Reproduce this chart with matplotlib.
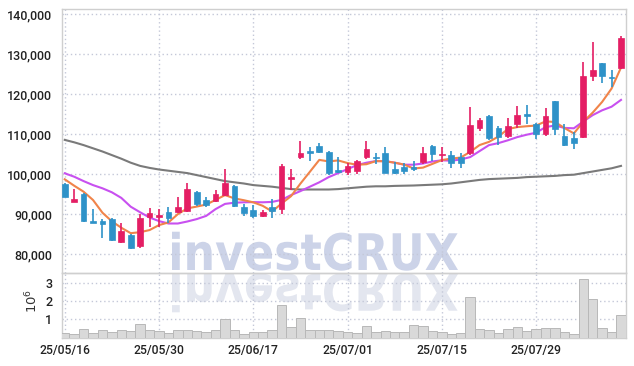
import numpy as np
import matplotlib
matplotlib.use("Agg")
import matplotlib.pyplot as plt
import matplotlib.transforms as mtransforms
from matplotlib.textpath import TextPath
from matplotlib.patches import PathPatch
from matplotlib.font_manager import FontProperties, fontManager

# ---- data ----
dates = ['25/05/16', '25/05/30', '25/06/17', '25/07/01', '25/07/15', '25/07/29']
date_idx = [0, 10, 20, 30, 40, 50]

opens = [97600, 93150, 95100, 88300, 88300, 88800, 83150, 84800, 82150, 89400,
         89250, 90500, 90500, 90800, 95600, 93500, 93300, 94800, 97100, 91900,
         91150, 89550, 91800, 91300, 98850, 104400, 105750, 107100, 105650, 101150,
         100650, 100900, 104400, 104400, 105400, 101300, 101800, 101750, 103150, 107100,
         104750, 104825, 104250, 105250, 111500, 114575, 111650, 109650, 112500, 114900,
         112500, 110000, 118300, 109575, 109000, 109400, 124650, 127750, 124400, 126650]
highs = [97800, 96250, 95200, 91300, 88800, 89000, 87800, 85000, 90000, 91600,
         91200, 91900, 94300, 97900, 95800, 94200, 96100, 101300, 97200, 92500,
         92300, 91100, 93800, 102600, 101250, 108300, 106750, 107750, 105900, 104250,
         102750, 103550, 108400, 105400, 106900, 103150, 102900, 103300, 106900, 107200,
         106900, 105900, 105250, 116750, 114000, 114700, 112100, 114000, 117100, 117300,
         112700, 116500, 118400, 112500, 110650, 128000, 133000, 127800, 126100, 134600]
lows = [94200, 93050, 88000, 87700, 84100, 83400, 82800, 81200, 81500, 86700,
        86900, 87800, 90300, 90500, 92100, 91900, 93100, 94600, 91900, 89550,
        89000, 89400, 89000, 90100, 96100, 103750, 103250, 105200, 99750, 100400,
        99800, 100100, 103900, 102500, 100300, 100100, 100100, 100900, 102600, 103300,
        103150, 101500, 101650, 104800, 110800, 108600, 107300, 109000, 111500, 112500,
        108750, 109600, 109800, 107150, 106300, 109150, 123300, 122750, 121900, 126250]
closes = [94400, 93800, 88300, 87900, 87600, 83600, 85800, 81500, 89150, 90250,
          89800, 89150, 91900, 96300, 92500, 92300, 95000, 97900, 92150, 90250,
          89650, 90650, 90800, 102150, 99400, 105400, 105400, 105650, 100250, 100650,
          102100, 103300, 106300, 104150, 100400, 100400, 100900, 101400, 105250, 105075,
          105150, 102750, 102750, 112300, 113600, 109150, 109400, 112075, 114800, 114650,
          110000, 114650, 111250, 107325, 107900, 124575, 126075, 124650, 124000, 134150]
ma5 = [98750, 97150, 95650, 93575, 90400, 88240, 86640, 85280, 85530, 86060,
       87300, 87970, 90050, 91480, 91930, 92430, 93600, 94800, 93970, 93520,
       92990, 92120, 90700, 92700, 94530, 97680, 100630, 103600, 103220, 103470,
       102810, 102390, 102520, 103300, 103250, 102910, 102430, 101450, 101670, 102605,
       103555, 103925, 104195, 105605, 107310, 108110, 109440, 111305, 111805, 112015,
       112185, 113235, 113070, 111575, 110225, 113140, 115425, 118105, 121440, 126690]
ma20 = [100250, 99400, 98300, 97300, 96500, 95500, 94100, 91900, 90500, 89200,
        88300, 87700, 87700, 88200, 88800, 89600, 91300, 92600, 92900, 93000,
        93050, 93000, 93100, 93600, 94800, 95800, 96900, 98000, 99300, 100300,
        101300, 102300, 102900, 103300, 103300, 102900, 102400, 102400, 102700, 103200,
        103500, 103400, 103700, 104300, 105800, 107300, 107800, 108500, 109300, 109900,
        110400, 111800, 112200, 111600, 111500, 113200, 114800, 116000, 116900, 118600]
ma60 = [108600, 108000, 107300, 106500, 105700, 104800, 103900, 102900, 102100, 101600,
        101200, 100900, 100600, 100300, 99800, 99300, 98800, 98300, 98000, 97700,
        97300, 97100, 96900, 96600, 96300, 96200, 96200, 96200, 96200, 96300,
        96500, 96700, 96900, 97000, 97000, 97100, 97150, 97200, 97300, 97400,
        97500, 97700, 98000, 98300, 98600, 98800, 98900, 99000, 99100, 99300,
        99400, 99500, 99600, 99800, 99900, 100300, 100700, 101100, 101500, 102100]
volume = [0.23, 0.19, 0.45, 0.26, 0.39, 0.32, 0.39, 0.37, 0.72, 0.39,
          0.37, 0.26, 0.39, 0.39, 0.34, 0.28, 0.39, 0.99, 0.41, 0.17,
          0.30, 0.30, 0.41, 1.81, 0.56, 1.05, 0.41, 0.41, 0.41, 0.36,
          0.30, 0.23, 0.63, 0.30, 0.36, 0.30, 0.30, 0.68, 0.63, 0.36,
          0.30, 0.17, 0.23, 2.20, 0.47, 0.41, 0.23, 0.47, 0.56, 0.36,
          0.47, 0.52, 0.52, 0.30, 0.17, 3.23, 2.14, 0.52, 0.30, 1.23]

UP = '#e41e64'
DOWN = '#2e92c8'
GRID = '#c4c8d8'
FRAME = '#cfcfcf'
TXT = '#222222'

# pick a narrow font if one is installed
names = {f.name for f in fontManager.ttflist}
FONT, FS = 'Roboto', 9
for cand, size in [('Liberation Sans Narrow', 10.5), ('DejaVu Sans Condensed', 8.5)]:
    if cand in names:
        FONT, FS = cand, size
        break

x = np.arange(len(closes))
o = np.array(opens); c = np.array(closes)
h = np.array(highs); l = np.array(lows)
col = np.where(c >= o, UP, DOWN)

W, H = 634, 366
fig = plt.figure(figsize=(W / 100, H / 100), dpi=100)
fig.patch.set_facecolor('white')

ax = fig.add_axes([62 / W, 1 - 272.5 / H, 564 / W, 263.2 / H])
axv = fig.add_axes([62 / W, 1 - 337.5 / H, 564 / W, 65 / H], sharex=ax)
for a in (ax, axv):
    a.set_facecolor('none')
    for s in a.spines.values():
        s.set_color(FRAME)
        s.set_linewidth(1)
    a.tick_params(length=0, colors=TXT)
    a.grid(True, color=GRID, linestyle=(0, (1, 2)), linewidth=1)
    a.set_axisbelow(True)

# watermark (text + mirrored reflection)
fp = FontProperties(family='DejaVu Sans', weight='bold')
tp = TextPath((0, 0), 'investCRUX', size=100, prop=fp)
bb = tp.get_extents()
sx = 286 / bb.width
sy = 39 / bb.height
t1 = mtransforms.Affine2D().translate(-bb.x0, 0).scale(sx, sy).translate(172, H - 270)
t2 = mtransforms.Affine2D().translate(-bb.x0, 0).scale(sx, -sy).translate(172, H - 274)
fig.add_artist(PathPatch(t1.transform_path(tp), transform=mtransforms.IdentityTransform(),
                         facecolor='#ccd3e8', edgecolor='none', zorder=-1))
fig.add_artist(PathPatch(t2.transform_path(tp), transform=mtransforms.IdentityTransform(),
                         facecolor='#e3e6ef', edgecolor='none', zorder=-1))

# moving averages
ax.plot(x, ma60, color='#7a7a7a', lw=1.5, zorder=2)
ax.plot(x, ma20, color='#c850f0', lw=1.5, zorder=2)
ax.plot(x, ma5, color='#f0844a', lw=1.5, zorder=2)

# candles
ax.vlines(x, l, h, colors=col, lw=1.2, zorder=3)
body = np.maximum(np.abs(c - o), 300)
ax.bar(x, body, bottom=np.minimum(o, c), width=0.6, color=col, edgecolor=col,
       linewidth=0.5, zorder=4)

ax.set_ylim(75450, 141250)
ax.set_yticks([80000, 90000, 100000, 110000, 120000, 130000, 140000])
ax.set_yticklabels([f'{v:,}' for v in ax.get_yticks().astype(int)],
                   family=FONT, fontsize=FS, weight='medium', color=TXT)
ax.set_xlim(-0.29, 59.53)
ax.tick_params(axis='x', labelbottom=False)
ax.tick_params(axis='y', pad=7)

# volume
axv.bar(x, volume, width=1.0, color='#d9d9d9', edgecolor='#b8b8b8', linewidth=0.7, zorder=3)
axv.set_ylim(0, 3.57)
axv.set_yticks([1, 2, 3])
axv.set_yticklabels(['1', '2', '3'], family=FONT, fontsize=FS, weight='medium', color=TXT)
axv.tick_params(axis='y', pad=7)
axv.set_xticks(date_idx)
axv.set_xticklabels(dates, family=FONT, fontsize=FS - 0.3, weight='medium', color=TXT)
axv.tick_params(axis='x', pad=5)
fig.text(32 / W, 1 - 301 / H, r'$10^6$', rotation=90, ha='center', va='center',
         fontsize=9.5, color='#333333')

fig.savefig('out.png', dpi=100)
